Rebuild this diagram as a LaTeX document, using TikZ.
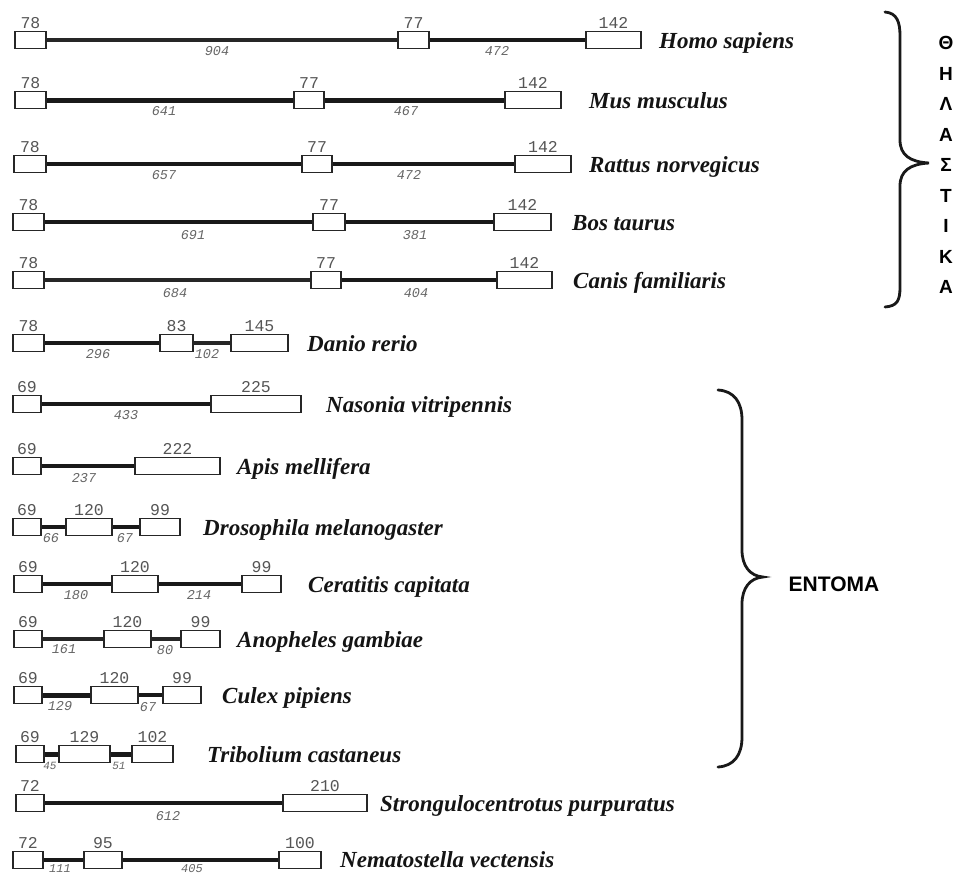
\documentclass[tikz,border=0pt]{standalone}
\usepackage{fontspec}
\newfontfamily\numfnt{Liberation Mono}
\newfontfamily\spfnt{Liberation Serif}
\newfontfamily\grkfnt{Liberation Sans}
\definecolor{numgray}{HTML}{555555}
\definecolor{ingray}{HTML}{666666}
\tikzset{
 exonbox/.style={draw=black!85, line width=1.6pt, fill=white, rectangle, inner sep=0pt, minimum height=17pt},
 numlab/.style={font=\numfnt\fontsize{16.5}{16.5}\selectfont, text=numgray, inner sep=0pt, anchor=base},
 inlab/.style={font=\numfnt\itshape\fontsize{13.5}{13.5}\selectfont, text=ingray, inner sep=0pt},
 smallinlab/.style={font=\numfnt\itshape\fontsize{11}{11}\selectfont, text=ingray, inner sep=0pt},
 intron/.style={line width=4pt, black!90},
 thinintron/.style={line width=3.2pt, black!85},
 thickintron/.style={line width=5pt, black!90},
 spname/.style={font=\spfnt\bfseries\itshape\fontsize{23}{23}\selectfont, inner sep=0pt, anchor=base west, text=black!92},
 bracepath/.style={line width=2.8pt, line cap=round, black!90},
 grouplab/.style={font=\grkfnt\bfseries, inner sep=0pt, text=black},
}
\newcommand\mkexon[5]{%
  \node[exonbox, minimum width={(#3-#2)*1pt}] (#1) at ({(#2+#3)/2},#4) {};
  \node[numlab] (#1n) at ({(#2+#3)/2},#4-11.5) {#5};
}
\begin{document}
\begin{tikzpicture}[x=1pt,y=-1pt]
\useasboundingbox[fill=white] (0,0) rectangle (961,876);
% Row 1 Homo sapiens
\mkexon{a1}{15}{46}{40}{78}
\mkexon{a2}{398}{429}{40}{77}
\mkexon{a3}{586}{641}{40}{142}
\draw[thinintron] (a1) -- (a2);
\draw[intron] (a2) -- (a3);
\node[inlab] (a1i) at (217,51) {904};
\node[inlab] (a2i) at (497,51) {472};
\node[spname] (a0) at (659,48) {Homo sapiens};
% Row 2 Mus musculus
\mkexon{b1}{15}{46}{100}{78}
\mkexon{b2}{294}{324}{100}{77}
\mkexon{b3}{505}{561}{100}{142}
\draw[thickintron] (b1) -- (b2);
\draw[thickintron] (b2) -- (b3);
\node[inlab] (b1i) at (164,111) {641};
\node[inlab] (b2i) at (406,111) {467};
\node[spname] (b0) at (589,108) {Mus musculus};
% Row 3 Rattus norvegicus
\mkexon{c1}{14}{46}{164}{78}
\mkexon{c2}{302}{332}{164}{77}
\mkexon{c3}{515}{571}{164}{142}
\draw[intron] (c1) -- (c2);
\draw[intron] (c2) -- (c3);
\node[inlab] (c1i) at (164,175) {657};
\node[inlab] (c2i) at (409,175) {472};
\node[spname] (c0) at (589,172) {Rattus norvegicus};
% Row 4 Bos taurus
\mkexon{d1}{13}{44}{222}{78}
\mkexon{d2}{313}{345}{222}{77}
\mkexon{d3}{494}{551}{222}{142}
\draw[intron] (d1) -- (d2);
\draw[intron] (d2) -- (d3);
\node[inlab] (d1i) at (193,235) {691};
\node[inlab] (d2i) at (415,235) {381};
\node[spname] (d0) at (572,230) {Bos taurus};
% Row 5 Canis familiaris
\mkexon{e1}{13}{44}{280}{78}
\mkexon{e2}{311}{341}{280}{77}
\mkexon{e3}{497}{552}{280}{142}
\draw[thinintron] (e1) -- (e2);
\draw[intron] (e2) -- (e3);
\node[inlab] (e1i) at (175,293) {684};
\node[inlab] (e2i) at (416,293) {404};
\node[spname] (e0) at (573,288) {Canis familiaris};
% Row 6 Danio rerio
\mkexon{f1}{13}{44}{343}{78}
\mkexon{f2}{160}{193}{343}{83}
\mkexon{f3}{231}{288}{343}{145}
\draw[intron] (f1) -- (f2);
\draw[thinintron] (f2) -- (f3);
\node[inlab] (f1i) at (98,354) {296};
\node[inlab] (f2i) at (207,354) {102};
\node[spname] (f0) at (307,351) {Danio rerio};
% Row 7 Nasonia vitripennis
\mkexon{g1}{13}{41}{404}{69}
\mkexon{g2}{211}{301}{404}{225}
\draw[intron] (g1) -- (g2);
\node[inlab] (g1i) at (126,415) {433};
\node[spname] (g0) at (326,412) {Nasonia vitripennis};
% Row 8 Apis mellifera
\mkexon{h1}{13}{41}{466}{69}
\mkexon{h2}{135}{220}{466}{222}
\draw[intron] (h1) -- (h2);
\node[inlab] (h1i) at (84,478) {237};
\node[spname] (h0) at (237,474) {Apis mellifera};
% Row 9 Drosophila melanogaster
\mkexon{i1}{13}{41}{527}{69}
\mkexon{i2}{66}{112}{527}{120}
\mkexon{i3}{140}{180}{527}{99}
\draw[intron] (i1) -- (i2);
\draw[intron] (i2) -- (i3);
\node[inlab] (i1i) at (51,538) {66};
\node[inlab] (i2i) at (125,538) {67};
\node[spname] (i0) at (203,535) {Drosophila melanogaster};
% Row 10 Ceratitis capitata
\mkexon{j1}{14}{42}{584}{69}
\mkexon{j2}{112}{158}{584}{120}
\mkexon{j3}{242}{281}{584}{99}
\draw[intron] (j1) -- (j2);
\draw[intron] (j2) -- (j3);
\node[inlab] (j1i) at (76,595) {180};
\node[inlab] (j2i) at (199,595) {214};
\node[spname] (j0) at (308,592) {Ceratitis capitata};
% Row 11 Anopheles gambiae
\mkexon{k1}{14}{42}{639}{69}
\mkexon{k2}{104}{151}{639}{120}
\mkexon{k3}{181}{220}{639}{99}
\draw[thinintron] (k1) -- (k2);
\draw[thinintron] (k2) -- (k3);
\node[inlab] (k1i) at (64,649) {161};
\node[inlab] (k2i) at (165,650) {80};
\node[spname] (k0) at (237,647) {Anopheles gambiae};
% Row 12 Culex pipiens
\mkexon{l1}{14}{42}{695}{69}
\mkexon{l2}{91}{138}{695}{120}
\mkexon{l3}{163}{201}{695}{99}
\draw[thickintron] (l1) -- (l2);
\draw[intron] (l2) -- (l3);
\node[inlab] (l1i) at (60,706) {129};
\node[inlab] (l2i) at (148,707) {67};
\node[spname] (l0) at (222,703) {Culex pipiens};
% Row 13 Tribolium castaneus
\mkexon{m1}{16}{44}{754}{69}
\mkexon{m2}{59}{110}{754}{129}
\mkexon{m3}{132}{173}{754}{102}
\draw[thickintron] (m1) -- (m2);
\draw[thickintron] (m2) -- (m3);
\node[smallinlab] (m1i) at (50,766) {45};
\node[smallinlab] (m2i) at (119,766) {51};
\node[spname] (m0) at (207,762) {Tribolium castaneus};
% Row 14 Strongulocentrotus purpuratus
\mkexon{n1}{16}{44}{803}{72}
\mkexon{n2}{283}{367}{803}{210}
\draw[intron] (n1) -- (n2);
\node[inlab] (n1i) at (168,816) {612};
\node[spname] (n0) at (380,811) {Strongulocentrotus purpuratus};
% Row 15 Nematostella vectensis
\mkexon{o1}{13}{43}{860}{72}
\mkexon{o2}{84}{122}{860}{95}
\mkexon{o3}{279}{321}{860}{100}
\draw[intron] (o1) -- (o2);
\draw[intron] (o2) -- (o3);
\node[inlab, font=\numfnt\itshape\fontsize{12}{12}\selectfont] (o1i) at (60,868.5) {111};
\node[inlab, font=\numfnt\itshape\fontsize{12}{12}\selectfont] (o2i) at (192,868.5) {405};
\node[spname] (o0) at (340,867) {Nematostella vectensis};
% Brace: mammals
\draw[bracepath] (885,12) .. controls (897,13) and (900,22) .. (900,36) -- (900,140)
  .. controls (900,155) and (910,162) .. (929,163)
  .. controls (910,164) and (900,171) .. (900,186) -- (900,287)
  .. controls (900,301) and (897,306) .. (885,307);
\node[grouplab, align=center, font=\grkfnt\bfseries\fontsize{19}{30.5}\selectfont] (mam) at (946,165)
  {Θ\\Η\\Λ\\Α\\Σ\\Τ\\Ι\\Κ\\Α};
% Brace: insects
\draw[bracepath] (718,390) .. controls (734,391) and (742,402) .. (742,420) -- (742,550)
  .. controls (742,566) and (750,576) .. (763,577)
  .. controls (750,578) and (742,588) .. (742,604) -- (742,737)
  .. controls (742,755) and (734,766) .. (718,767);
\node[grouplab, font=\grkfnt\bfseries\fontsize{21}{21}\selectfont] (ins) at (834,584) {ENTOMA};
\end{tikzpicture}
\end{document}
